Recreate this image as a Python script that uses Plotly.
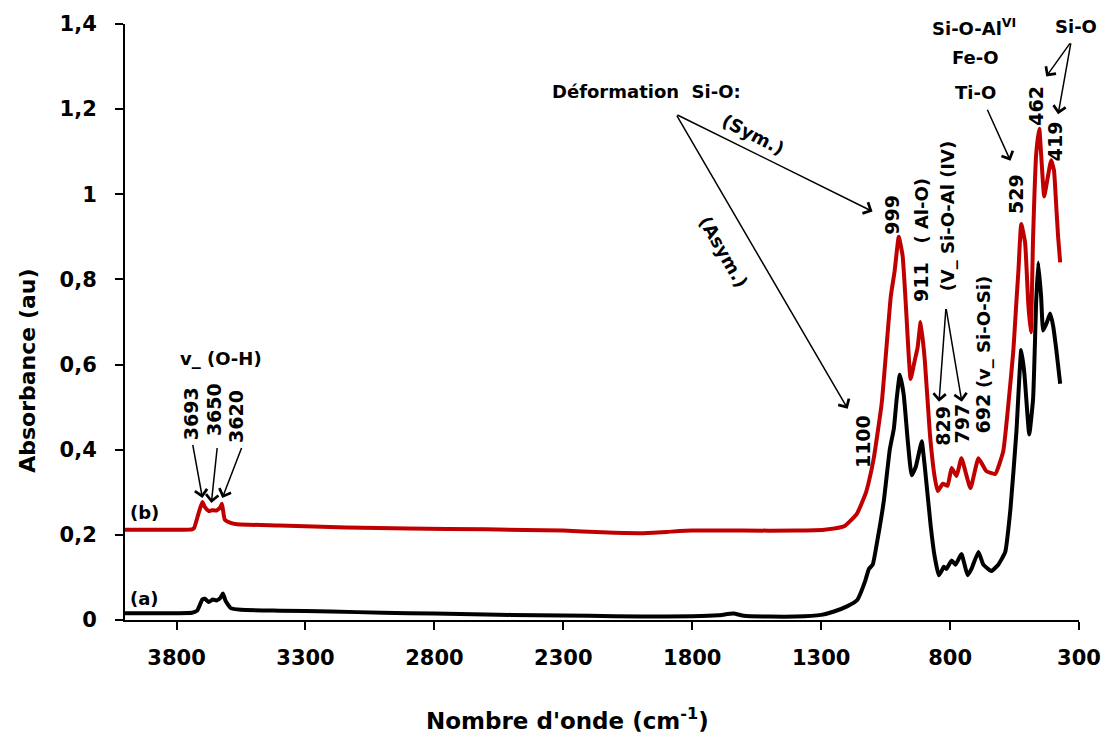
import plotly.graph_objects as go

# ---------------- data ----------------
wn_a = [4000, 3800, 3740, 3720, 3700, 3690, 3675, 3660, 3645, 3630, 3620, 3610, 3590, 3550,
        3400, 3200, 3000, 2800, 2600, 2400, 2200, 2000, 1800, 1700, 1640, 1600, 1500, 1400,
        1300, 1250, 1200, 1160, 1130, 1115, 1100, 1084, 1057, 1034, 1018, 1007, 995, 980,
        964, 949, 933, 918, 910, 898, 875, 860, 844, 833, 825, 814, 794, 779, 756, 732, 717,
        690, 671, 640, 613, 586, 566, 543, 524, 512, 493, 478, 466, 458, 447, 439, 424, 412,
        400, 389, 373]
abs_a = [0.016, 0.016, 0.017, 0.022, 0.048, 0.050, 0.042, 0.048, 0.046, 0.052, 0.062, 0.045,
         0.028, 0.024, 0.022, 0.020, 0.017, 0.015, 0.013, 0.011, 0.010, 0.008, 0.009, 0.011,
         0.015, 0.010, 0.008, 0.008, 0.012, 0.020, 0.032, 0.047, 0.090, 0.120, 0.130, 0.180,
         0.280, 0.400, 0.450, 0.520, 0.576, 0.530, 0.420, 0.340, 0.360, 0.400, 0.420, 0.360,
         0.220, 0.150, 0.105, 0.115, 0.125, 0.120, 0.140, 0.130, 0.155, 0.105, 0.120, 0.160,
         0.130, 0.115, 0.130, 0.160, 0.260, 0.440, 0.634, 0.580, 0.436, 0.520, 0.750, 0.840,
         0.760, 0.680, 0.700, 0.720, 0.690, 0.640, 0.555]

wn_b = [4000, 3800, 3740, 3732, 3715, 3700, 3690, 3675, 3663, 3645, 3630, 3624, 3613, 3590,
        3566, 3400, 3141, 2900, 2600, 2300, 2150, 2000, 1900, 1800, 1600, 1400, 1288, 1211,
        1161, 1126, 1115, 1096, 1065, 1030, 1015, 999, 984, 972, 953, 937, 926, 914, 898,
        878, 859, 848, 828, 810, 794, 775, 756, 721, 690, 660, 625, 594, 575, 555, 543, 535,
        524, 509, 497, 487, 478, 466, 454, 447, 435, 424, 408, 397, 389, 381, 373]
abs_b = [0.212, 0.212, 0.213, 0.216, 0.250, 0.277, 0.265, 0.256, 0.258, 0.257, 0.265, 0.273,
         0.236, 0.228, 0.225, 0.222, 0.217, 0.215, 0.213, 0.210, 0.206, 0.204, 0.207, 0.210,
         0.210, 0.210, 0.212, 0.220, 0.250, 0.300, 0.325, 0.380, 0.510, 0.760, 0.820, 0.900,
         0.855, 0.745, 0.566, 0.610, 0.640, 0.700, 0.610, 0.435, 0.333, 0.303, 0.320, 0.315,
         0.357, 0.338, 0.380, 0.310, 0.380, 0.350, 0.343, 0.396, 0.500, 0.630, 0.746, 0.820,
         0.930, 0.886, 0.745, 0.676, 0.900, 1.095, 1.154, 1.095, 0.995, 1.030, 1.080, 1.056,
         0.980, 0.900, 0.840]

x_tick_vals = [3800, 3300, 2800, 2300, 1800, 1300, 800, 300]
x_tick_text = ["3800", "3300", "2800", "2300", "1800", "1300", "800", "300"]
y_tick_vals = [0, 0.2, 0.4, 0.6, 0.8, 1.0, 1.2, 1.4]
y_tick_text = ["0", "0,2", "0,4", "0,6", "0,8", "1", "1,2", "1,4"]

x_title = "Nombre d'onde (cm<sup>-1</sup>)"
y_title = "Absorbance (au)"

# ---------------- layout geometry ----------------
W, H = 1113, 740
L, R, T, B = 125, 1086, 19, 620
XMIN, XMAX = 4000, 300
YMIN, YMAX = 0.0, 1.4


def X(px):
    return XMIN + (px - L) * (XMAX - XMIN) / (R - L)


def Y(py):
    return YMIN + (B - py) * (YMAX - YMIN) / (B - T)


def PX(px):
    return (px - L) / (R - L)


def PY(py):
    return (B - py) / (B - T)


FONT = "DejaVu Sans"
RED = "#C00000"


def f(size):
    return dict(family=FONT, size=size, color="#000000", weight="bold")


fig = go.Figure()
fig.add_trace(go.Scatter(x=wn_a, y=abs_a, mode="lines", name="(a)",
                         line=dict(color="#000000", width=4, shape="spline", smoothing=0.4)))
fig.add_trace(go.Scatter(x=wn_b, y=abs_b, mode="lines", name="(b)",
                         line=dict(color=RED, width=4, shape="spline", smoothing=0.4)))

texts = [
    ("Déformation  Si-O:", 650, 87, 0, 18),
    ("(Sym.)", 758, 130, 27, 18),
    ("(Asym.)", 728, 248, 60, 18),
    ("999", 898, 211, -90, 19),
    ("( Al-O)", 927, 207, -90, 18),
    ("911", 927, 279, -90, 19),
    ("(V_ Si-O-Al (IV)", 953, 212, -90, 18),
    ("(v_ Si-O-Si)", 990, 330, -90, 18),
    ("1100", 868, 440, -90, 19),
    ("829", 949, 424, -90, 19),
    ("797", 968, 422, -90, 19),
    ("692", 989, 412, -90, 19),
    ("529", 1022, 190, -90, 19),
    ("Ti-O", 982, 88, 0, 18),
    ("Fe-O", 982, 53, 0, 18),
    ("Si-O-Al<sup>VI</sup>", 980, 22, 0, 18),
    ("Si-O", 1083, 22, 0, 18),
    ("462", 1043, 101, -90, 19),
    ("419", 1062, 137, -90, 19),
    ("v_ (O-H)", 222, 356, 0, 18),
    ("3693", 191, 412, -90, 19),
    ("3650", 214, 408, -90, 19),
    ("3620", 237, 415, -90, 19),
    ("(b)", 145, 512, 0, 18),
    ("(a)", 145, 598, 0, 18),
]
anns = []
for t, px, py, ang, sz in texts:
    anns.append(dict(text=t, x=X(px), y=Y(py), xref="x", yref="y", showarrow=False,
                     textangle=ang, xanchor="center", yanchor="middle", font=f(sz)))

arrows = [
    ((680, 110), (878, 208)),
    ((680, 110), (853, 407)),
    ((952, 305), (945, 400)),
    ((952, 305), (968, 400)),
    ((993, 104), (1017, 157)),
    ((1078, 37), (1053, 72)),
    ((1078, 37), (1065, 110)),
    ((193, 442), (203, 497)),
    ((218, 445), (212, 502)),
    ((243, 445), (223, 497)),
]
for (tx, ty), (hx, hy) in arrows:
    anns.append(dict(text="", x=X(hx), y=Y(hy), ax=X(tx), ay=Y(ty), xref="x", yref="y",
                     axref="x", ayref="y", showarrow=True, arrowhead=4, arrowsize=1.6,
                     arrowwidth=1.5, arrowcolor="#000000", standoff=0))

# axis titles placed where the reference shows them
anns.append(dict(text=x_title, x=PX(571), y=PY(720), xref="paper", yref="paper",
                 showarrow=False, xanchor="center", yanchor="middle", font=f(23)))
anns.append(dict(text=y_title, x=PX(26), y=PY(369), xref="paper", yref="paper",
                 showarrow=False, textangle=-90, xanchor="center", yanchor="middle",
                 font=f(22)))

axis_common = dict(showgrid=False, zeroline=False, showline=True, linecolor="#000000",
                   linewidth=2, ticks="outside", ticklen=8, tickwidth=2,
                   tickcolor="#000000", tickfont=f(21))

fig.update_layout(
    width=W, height=H,
    margin=dict(l=L, r=W - R, t=T, b=H - B),
    paper_bgcolor="white", plot_bgcolor="white",
    showlegend=False,
    font=f(20),
    annotations=anns,
    xaxis=dict(range=[XMIN, XMAX], tickvals=x_tick_vals, ticktext=x_tick_text,
               ticklabelstandoff=10, **axis_common),
    yaxis=dict(range=[YMIN, YMAX], tickvals=y_tick_vals, ticktext=y_tick_text,
               ticklabelstandoff=14, **axis_common),
)

fig.write_html("out.html")
